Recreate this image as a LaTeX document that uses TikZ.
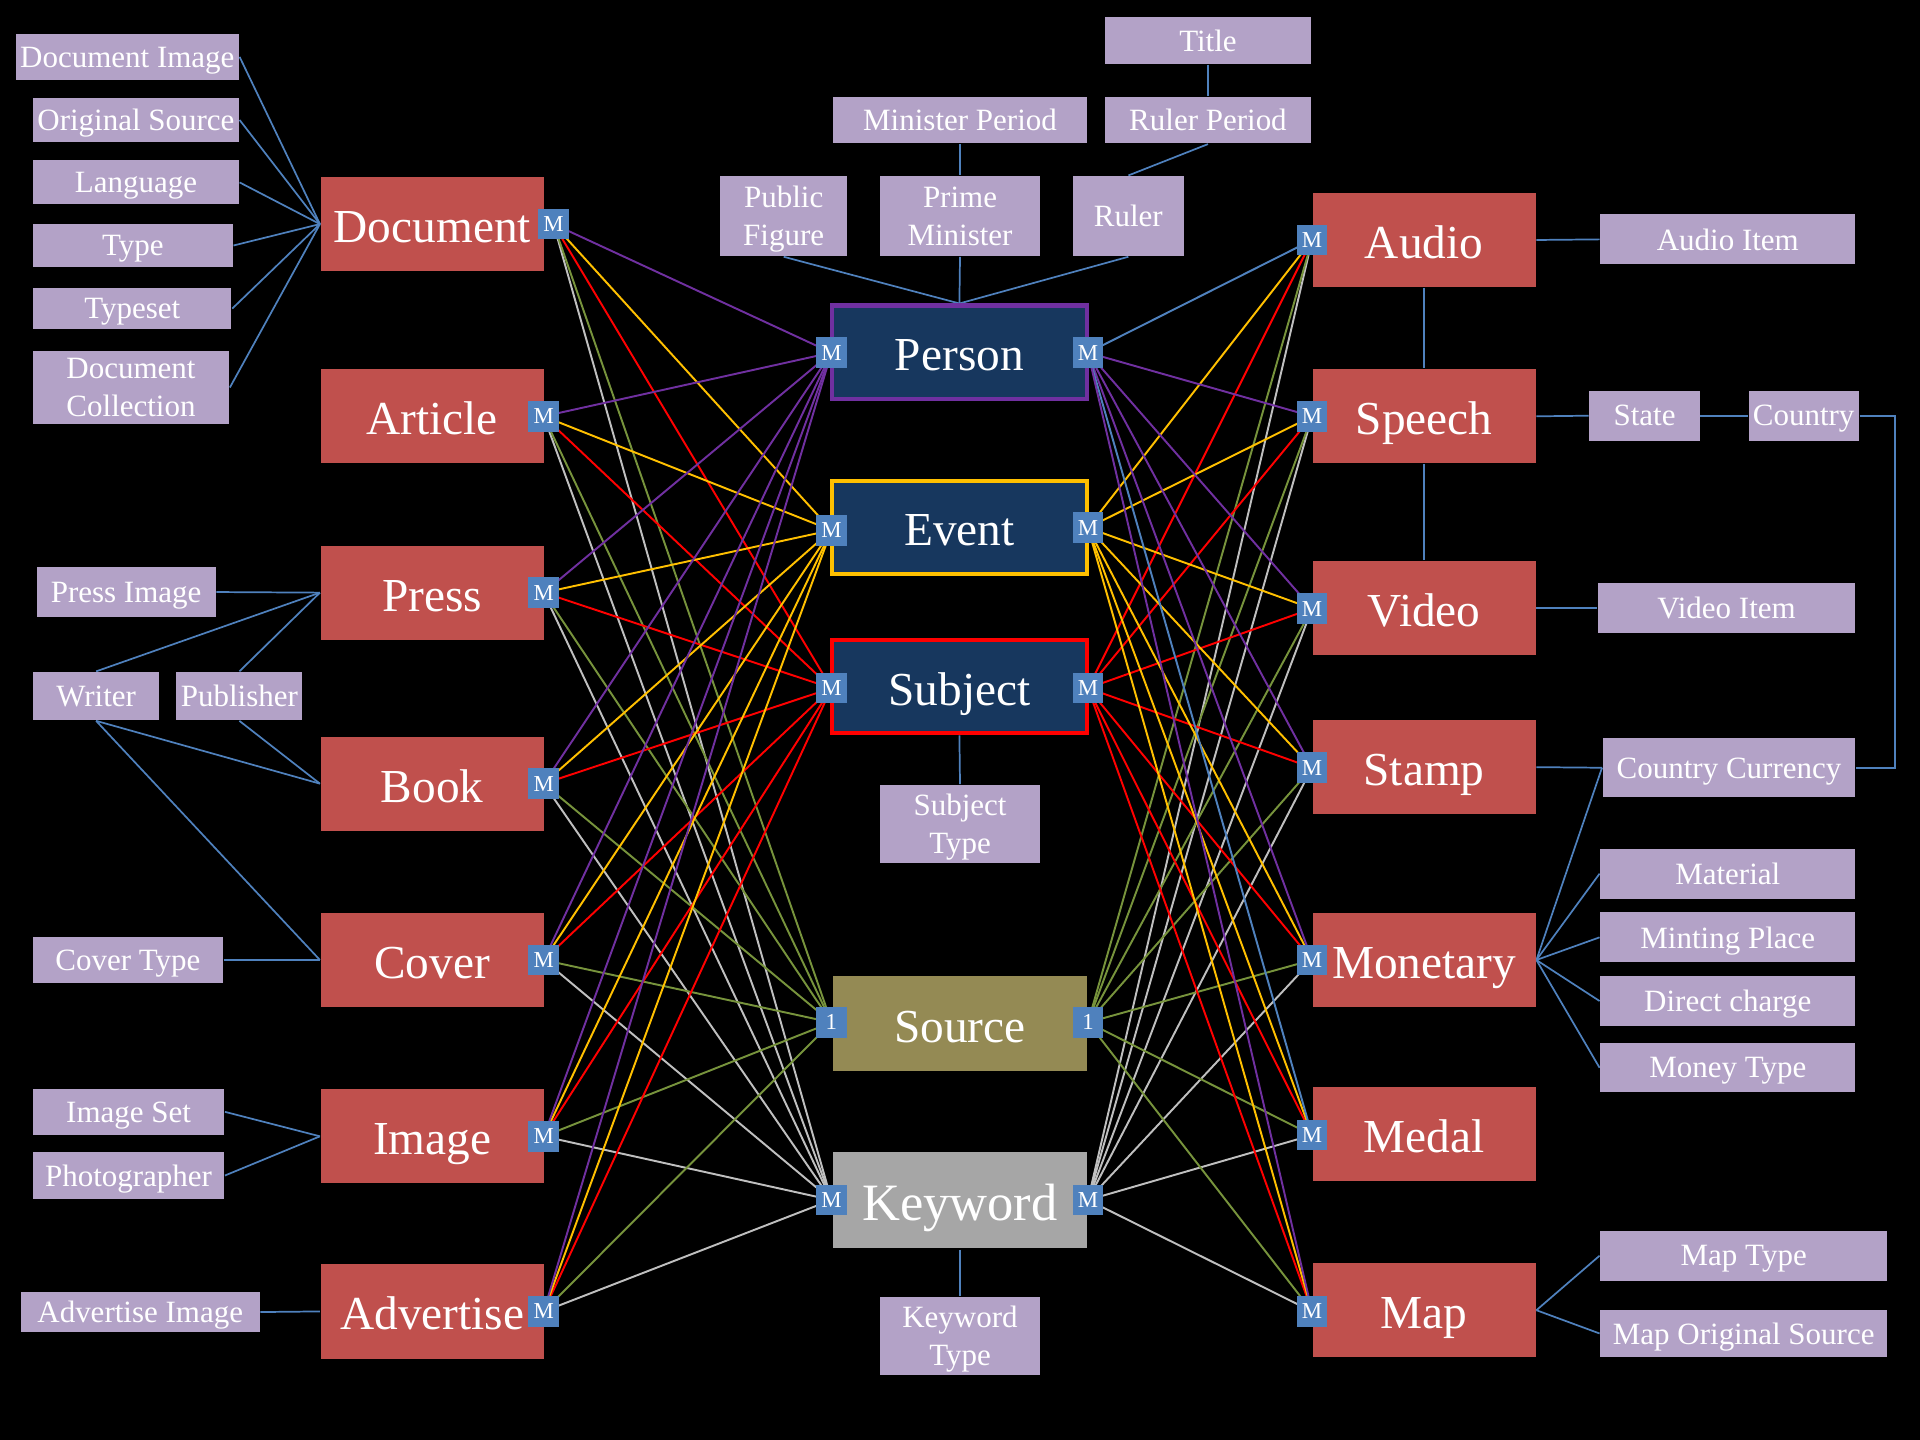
\documentclass[tikz,border=0pt]{standalone}
\usepackage{fontspec}
\setmainfont{Liberation Serif}
\usepackage{xcolor}
\usepackage{tikz}
\usetikzlibrary{positioning}
\pgfdeclarelayer{bg}
\pgfdeclarelayer{wires}
\pgfsetlayers{bg,wires,main}

\definecolor{entityred}{HTML}{C0504D}
\definecolor{hubnavy}{HTML}{17375E}
\definecolor{attrlav}{HTML}{B3A2C7}
\definecolor{portblue}{HTML}{4F81BD}
\definecolor{perscol}{HTML}{7030A0}
\definecolor{eventcol}{HTML}{FFC000}
\definecolor{subjcol}{HTML}{FF0000}
\definecolor{srccol}{HTML}{77933C}
\definecolor{keycol}{HTML}{BFBFBF}
\definecolor{srcfill}{HTML}{948A54}
\definecolor{keyfill}{HTML}{A6A6A6}

\tikzset{
    entity/.style={fill=entityred, text=white, minimum width=1.82cm,
      minimum height=0.77cm, inner sep=0pt, text height=8.6pt, text depth=0pt,
      font=\fontsize{11}{13}\selectfont},
    hub/.style={fill=hubnavy, text=white, line width=0.033cm, minimum width=2.08cm,
      minimum height=0.76cm, inner sep=0pt, text height=8.6pt, text depth=0pt,
      font=\fontsize{11}{13}\selectfont},
    attr/.style={fill=attrlav, text=white, inner sep=0pt, align=center,
      text depth=0pt, font=\fontsize{7.2}{8.8}\selectfont},
    wh/.style 2 args={minimum width=#1cm, minimum height=#2cm},
    port/.style={fill=portblue, text=white, minimum size=0.25cm, inner sep=0pt,
      font=\fontsize{5.3}{6}\selectfont},
    link/.style={portblue, line width=0.4pt},
    wire/.style={line width=0.45pt}
}

\begin{document}
\begin{tikzpicture}
    \begin{pgfonlayer}{bg}
      \fill[black] (0,0) rectangle (15.68,-11.76);
    \end{pgfonlayer}
    \useasboundingbox (0,0) rectangle (15.68,-11.76);

    % left side
    \node[entity] (doc) at (3.53,-1.83) {Document};
    \node[entity] (art) at (3.53,-3.40) {Article};
    \node[entity] (press) at (3.53,-4.84) {Press};
    \node[entity] (book) at (3.53,-6.40) {Book};
    \node[entity] (cover) at (3.53,-7.84) {Cover};
    \node[entity] (img) at (3.53,-9.28) {Image};
    \node[entity] (adv) at (3.53,-10.71) {Advertise};

    \node[port] (docM) at (4.52,-1.83) {M};
    \node[port] (artM) at (4.44,-3.40) {M};
    \node[port] (pressM) at (4.44,-4.84) {M};
    \node[port] (bookM) at (4.44,-6.40) {M};
    \node[port] (coverM) at (4.44,-7.84) {M};
    \node[port] (imgM) at (4.44,-9.28) {M};
    \node[port] (advM) at (4.44,-10.71) {M};

    \node[attr, wh={1.82}{0.37}] (docimg) at (1.04,-0.465) {Document Image};
    \node[attr, wh={1.68}{0.36}] (origsrc) at (1.11,-0.98) {Original Source};
    \node[attr, wh={1.68}{0.36}] (lang) at (1.11,-1.49) {Language};
    \node[attr, wh={1.63}{0.35}] (type) at (1.085,-2.005) {Type};
    \node[attr, wh={1.62}{0.34}] (typeset) at (1.08,-2.52) {Typeset};
    \node[attr, wh={1.60}{0.59}] (doccoll) at (1.07,-3.165) {Document\\Collection};
    \node[attr, wh={1.46}{0.41}] (pressimg) at (1.03,-4.835) {Press Image};
    \node[attr, wh={1.03}{0.39}] (writer) at (0.785,-5.685) {Writer};
    \node[attr, wh={1.03}{0.39}] (publisher) at (1.955,-5.685) {Publisher};
    \node[attr, wh={1.55}{0.38}] (covertype) at (1.045,-7.84) {Cover Type};
    \node[attr, wh={1.56}{0.38}] (imgset) at (1.05,-9.08) {Image Set};
    \node[attr, wh={1.56}{0.38}] (photog) at (1.05,-9.60) {Photographer};
    \node[attr, wh={1.95}{0.33}] (advimg) at (1.145,-10.715) {Advertise Image};

    % middle
    \node[hub, draw=perscol] (person) at (7.835,-2.875) {Person};
    \node[hub, draw=eventcol] (event) at (7.835,-4.305) {Event};
    \node[hub, draw=subjcol] (subj) at (7.835,-5.61) {Subject};
    \node[hub, fill=srcfill, minimum height=0.78cm] (src) at (7.84,-8.36) {Source};
    \node[hub, fill=keyfill, minimum height=0.78cm, text height=9.5pt,
      font=\fontsize{12.2}{14}\selectfont] (kw) at (7.84,-9.80) {Keyword};

    \node[port] (personL) at (6.79,-2.88) {M};
    \node[port] (personR) at (8.885,-2.88) {M};
    \node[port] (eventL) at (6.79,-4.33) {M};
    \node[port] (eventR) at (8.885,-4.31) {M};
    \node[port] (subjL) at (6.79,-5.62) {M};
    \node[port] (subjR) at (8.885,-5.62) {M};
    \node[port] (srcL) at (6.79,-8.35) {1};
    \node[port] (srcR) at (8.885,-8.35) {1};
    \node[port] (kwL) at (6.79,-9.80) {M};
    \node[port] (kwR) at (8.885,-9.80) {M};

    \node[attr, wh={1.69}{0.38}] (title) at (9.865,-0.33) {Title};
    \node[attr, wh={2.08}{0.38}] (minper) at (7.84,-0.98) {Minister Period};
    \node[attr, wh={1.69}{0.38}] (rulper) at (9.865,-0.98) {Ruler Period};
    \node[attr, wh={1.04}{0.65}] (pubfig) at (6.40,-1.765) {Public\\Figure};
    \node[attr, wh={1.30}{0.65}] (primemin) at (7.84,-1.765) {Prime\\Minister};
    \node[attr, wh={0.91}{0.65}] (ruler) at (9.215,-1.765) {Ruler};
    \node[attr, wh={1.30}{0.64}] (subjtype) at (7.84,-6.73) {Subject\\Type};
    \node[attr, wh={1.30}{0.64}] (kwtype) at (7.84,-10.91) {Keyword\\Type};

    % right side
    \node[entity] (audio) at (11.63,-1.96) {Audio};
    \node[entity] (speech) at (11.63,-3.40) {Speech};
    \node[entity] (video) at (11.63,-4.965) {Video};
    \node[entity] (stamp) at (11.63,-6.265) {Stamp};
    \node[entity] (mon) at (11.63,-7.84) {Monetary};
    \node[entity] (medal) at (11.63,-9.26) {Medal};
    \node[entity] (map) at (11.63,-10.70) {Map};

    \node[port] (audM) at (10.715,-1.96) {M};
    \node[port] (speechM) at (10.715,-3.40) {M};
    \node[port] (videoM) at (10.715,-4.97) {M};
    \node[port] (stampM) at (10.715,-6.27) {M};
    \node[port] (monM) at (10.715,-7.84) {M};
    \node[port] (medalM) at (10.715,-9.27) {M};
    \node[port] (mapM) at (10.715,-10.71) {M};

    \node[attr, wh={2.08}{0.41}] (audioitem) at (14.11,-1.955) {Audio Item};
    \node[attr, wh={0.90}{0.41}] (state) at (13.43,-3.395) {State};
    \node[attr, wh={0.90}{0.41}] (country) at (14.73,-3.395) {Country};
    \node[attr, wh={2.10}{0.41}] (videoitem) at (14.10,-4.965) {Video Item};
    \node[attr, wh={2.06}{0.48}] (ccurr) at (14.12,-6.27) {Country Currency};
    \node[attr, wh={2.08}{0.41}] (material) at (14.11,-7.135) {Material};
    \node[attr, wh={2.08}{0.41}] (minting) at (14.11,-7.655) {Minting Place};
    \node[attr, wh={2.08}{0.41}] (direct) at (14.11,-8.175) {Direct charge};
    \node[attr, wh={2.08}{0.40}] (moneytype) at (14.11,-8.72) {Money Type};
    \node[attr, wh={2.34}{0.41}] (maptype) at (14.24,-10.255) {Map Type};
    \node[attr, wh={2.34}{0.38}] (maporig) at (14.24,-10.89) {Map Original Source};

    \begin{pgfonlayer}{wires}
      \foreach \e in {docM,artM,pressM,bookM,coverM,imgM,advM} {
        \draw[wire,keycol] (\e.center) -- (kwL.center);
        \draw[wire,srccol] (\e.center) -- (srcL.center);
        \draw[wire,subjcol] (\e.center) -- (subjL.center);
        \draw[wire,eventcol] (\e.center) -- (eventL.center);
        \draw[wire,perscol] (\e.center) -- (personL.center);
      }
      \foreach \e/\col in {audM/portblue,speechM/perscol,videoM/perscol,stampM/perscol,
          monM/perscol,medalM/portblue,mapM/perscol} {
        \draw[wire,keycol] (kwR.center) -- (\e.center);
        \draw[wire,srccol] (srcR.center) -- (\e.center);
        \draw[wire,subjcol] (subjR.center) -- (\e.center);
        \draw[wire,eventcol] (eventR.center) -- (\e.center);
        \draw[wire,\col] (personR.center) -- (\e.center);
      }

      \foreach \a in {docimg,origsrc,lang,type,typeset,doccoll}
        \draw[link] (\a.east) -- (doc.west);
      \draw[link] (pressimg.east) -- (press.west);
      \draw[link] (writer.north) -- (press.west);
      \draw[link] (publisher.north) -- (press.west);
      \draw[link] (writer.south) -- (book.west);
      \draw[link] (publisher.south) -- (book.west);
      \draw[link] (writer.south) -- (cover.west);
      \draw[link] (covertype.east) -- (cover.west);
      \draw[link] (imgset.east) -- (img.west);
      \draw[link] (photog.east) -- (img.west);
      \draw[link] (advimg.east) -- (adv.west);

      \draw[link] (title.south) -- (rulper.north);
      \draw[link] (rulper.south) -- (ruler.north);
      \draw[link] (minper.south) -- (primemin.north);
      \foreach \a in {pubfig,primemin,ruler}
        \draw[link] (\a.south) -- (person.north);
      \draw[link] (subj.south) -- (subjtype.north);
      \draw[link] (kw.south) -- (kwtype.north);

      \draw[link] (audio.east) -- (audioitem.west);
      \draw[link] (audio.south) -- (speech.north);
      \draw[link] (speech.south) -- (video.north);
      \draw[link] (speech.east) -- (state.west);
      \draw[link] (state.east) -- (country.west);
      \draw[link] (country.east) -- ++(0.29,0) |- (ccurr.east);
      \draw[link] (video.east) -- (videoitem.west);
      \draw[link] (stamp.east) -- (ccurr.west);
      \foreach \a in {ccurr,material,minting,direct,moneytype}
        \draw[link] (mon.east) -- (\a.west);
      \draw[link] (map.east) -- (maptype.west);
      \draw[link] (map.east) -- (maporig.west);
    \end{pgfonlayer}
\end{tikzpicture}
\end{document}
